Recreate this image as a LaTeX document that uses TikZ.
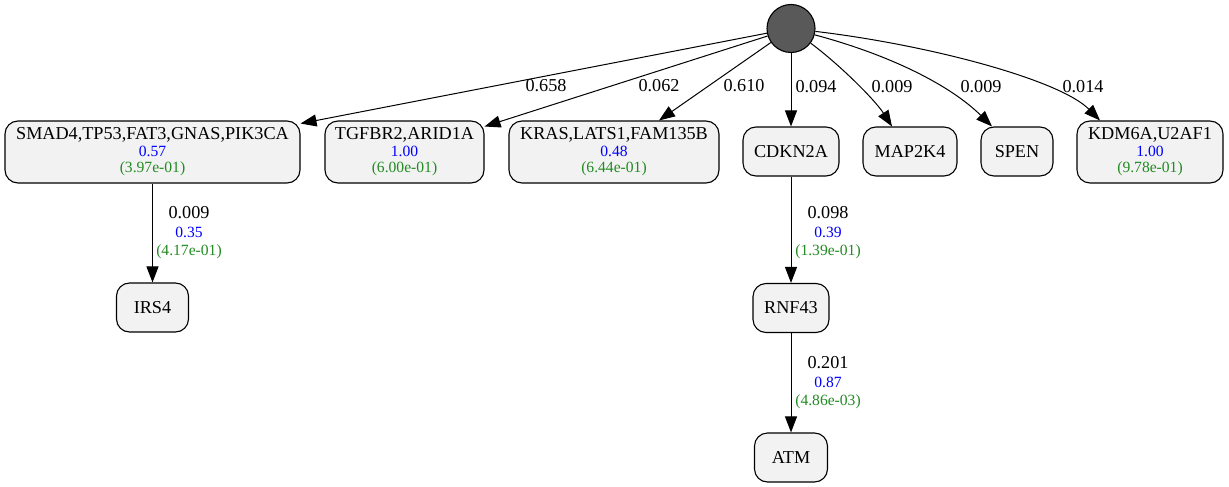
\documentclass[tikz,border=0pt]{standalone}
\usepackage{fontspec}
\setmainfont{Liberation Serif}
\usetikzlibrary{arrows.meta}
\definecolor{boxfill}{HTML}{F2F2F2}
\definecolor{rootfill}{HTML}{595959}
\definecolor{pgreen}{HTML}{228B22}
\newcommand{\genefont}{\fontsize{18.2}{16}\selectfont}
\newcommand{\labfont}{\fontsize{18.2}{18}\selectfont}
\newcommand{\smallfont}{\fontsize{15.6}{16}\selectfont}
\newcommand{\bluev}[1]{{\smallfont\color{blue}#1}}
\newcommand{\greenv}[1]{{\smallfont\color{pgreen}#1}}
\begin{document}
\begin{tikzpicture}[x=1pt,y=-1pt,
  gene/.style={draw=black, line width=1.1pt, fill=boxfill, rounded corners=13pt,
    inner sep=0pt, align=center, font=\genefont},
  rootnode/.style={circle, draw=black, line width=1.1pt, fill=rootfill,
    minimum size=48pt, inner sep=0pt},
  edge/.style={line width=1pt, -{Triangle[length=16pt,width=12pt]}},
  elabel/.style={font=\labfont, inner sep=0pt},
  vlabel/.style={font=\labfont, align=center, inner sep=0pt}]
\useasboundingbox (0,0) rectangle (1229,487);

% root
\node[rootnode] (root) at (791,28.5) {};

% first row
\node[gene, minimum width=295pt, minimum height=62pt] (smad) at (152.5,152)
  {SMAD4,TP53,FAT3,GNAS,PIK3CA\\[1pt]\bluev{0.57}\\\greenv{(3.97e-01)}};
\node[gene, minimum width=159pt, minimum height=62pt] (tgf) at (404.5,152)
  {TGFBR2,ARID1A\\[1pt]\bluev{1.00}\\\greenv{(6.00e-01)}};
\node[gene, minimum width=210pt, minimum height=62pt] (kras) at (614,152)
  {KRAS,LATS1,FAM135B\\[1pt]\bluev{0.48}\\\greenv{(6.44e-01)}};
\node[gene, minimum width=96pt, minimum height=49pt] (cdkn) at (791,151.5) {CDKN2A};
\node[gene, minimum width=94pt, minimum height=49pt] (map) at (910,151.5) {MAP2K4};
\node[gene, minimum width=72pt, minimum height=49pt] (spen) at (1017,151.5) {SPEN};
\node[gene, minimum width=146pt, minimum height=62pt] (kdm) at (1150,152)
  {KDM6A,U2AF1\\[1pt]\bluev{1.00}\\\greenv{(9.78e-01)}};

% lower rows
\node[gene, minimum width=72pt, minimum height=49pt] (irs) at (152.5,307.5) {IRS4};
\node[gene, minimum width=76pt, minimum height=49pt] (rnf) at (791,308) {RNF43};
\node[gene, minimum width=73pt, minimum height=49pt] (atm) at (791,457.5) {ATM};

% edges from root
\draw[edge] (root) -- (smad);
\draw[edge] (root) -- (tgf);
\draw[edge] (root) -- ([xshift=45pt]kras.north);
\draw[edge] (root) -- (cdkn);
\draw[edge] (root) .. controls (840,65) and (875,100) .. ([xshift=-18pt]map.north);
\draw[edge] (root) .. controls (890,55) and (950,85) .. ([xshift=-25pt]spen.north);
\draw[edge] (root) .. controls (930,45) and (1060,80) .. ([xshift=-50pt]kdm.north);

% other edges
\draw[edge] (smad) -- (irs);
\draw[edge] (cdkn) -- (rnf);
\draw[edge] (rnf) -- (atm);

% edge labels
\node[elabel] (l1) at (546,86) {0.658};
\node[elabel] (l2) at (659,86) {0.062};
\node[elabel] (l3) at (744,86) {0.610};
\node[elabel] (l4) at (816,87) {0.094};
\node[elabel] (l5) at (892,87) {0.009};
\node[elabel] (l6) at (981,87) {0.009};
\node[elabel] (l7) at (1083,87) {0.014};

\node[vlabel] (l8) at (189,232.7) {0.009\\[1pt]\bluev{0.35}\\\greenv{(4.17e-01)}};
\node[vlabel] (l9) at (828,232.7) {0.098\\[1pt]\bluev{0.39}\\\greenv{(1.39e-01)}};
\node[vlabel] (l10) at (828,382.7) {0.201\\[1pt]\bluev{0.87}\\\greenv{(4.86e-03)}};
\end{tikzpicture}
\end{document}
